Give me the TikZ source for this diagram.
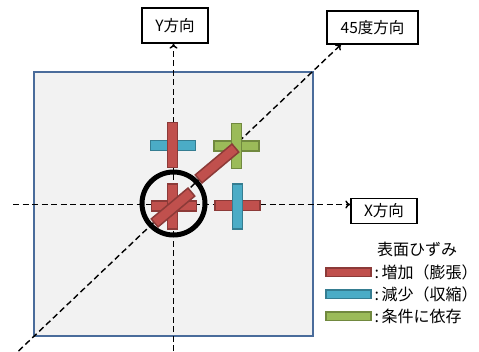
\documentclass[tikz,border=0pt]{standalone}
\usepackage{fontspec}
\setmainfont{Noto Sans CJK JP}
\usetikzlibrary{arrows.meta}
\definecolor{redf}{HTML}{C0504D}
\definecolor{redd}{HTML}{8C3A38}
\definecolor{bluef}{HTML}{4BACC6}
\definecolor{blued}{HTML}{357D91}
\definecolor{greenf}{HTML}{9BBB59}
\definecolor{greend}{HTML}{71893F}
\definecolor{sqfill}{HTML}{F2F2F2}
\definecolor{sqdraw}{HTML}{4A6C9B}
\tikzset{
  bar/.style={rectangle, inner sep=0pt, minimum width=45pt, minimum height=10pt, line width=1.5pt},
  rbar/.style={bar, fill=redf, draw=redd},
  bbar/.style={bar, fill=bluef, draw=blued},
  gbar/.style={bar, fill=greenf, draw=greend},
  dbar/.style={rbar, minimum width=48pt, minimum height=10.5pt, rotate=40},
  axis/.style={line width=1.4pt, dash pattern=on 6pt off 3.5pt},
  lbl/.style={draw=black, line width=1.3pt, fill=white, inner sep=0pt, font=\fontsize{15.5}{18}\selectfont},
  swatch/.style={rectangle, inner sep=0pt, minimum width=45pt, minimum height=8.5pt, line width=1.5pt},
  ltxt/.style={anchor=west, inner sep=0pt, font=\fontsize{16}{19}\selectfont}
}
\begin{document}
\begin{tikzpicture}[x=1pt,y=-1pt]
\useasboundingbox (0,0) rectangle (479,351);
% square
\node[draw=sqdraw, fill=sqfill, line width=2pt, minimum width=279pt, minimum height=264pt, inner sep=0pt] (sq) at (173.5,204) {};
% label boxes
\node[lbl, minimum width=66pt, minimum height=35pt] (ybox) at (175,25.5) {Y方向};
\node[lbl, minimum width=91pt, minimum height=33pt] (dbox) at (372.5,27.5) {45度方向};
\node[lbl, minimum width=66pt, minimum height=25pt] (xbox) at (384,210.8) {X方向};
% axes
\coordinate (vb) at (173.5,351);
\coordinate (hl) at (13,204.5);
\coordinate (dl) at (18.5,351);
\coordinate (dr) at (341,44.5);
\draw[axis, -{To[length=5pt,width=8pt]}] (vb) -- (vb |- ybox.south);
\draw[axis, -{To[length=5pt,width=8pt]}] (hl) -- (hl -| xbox.west);
\draw[axis, -{To[length=5pt,width=8pt]}] (dl) -- (dr);
% top cross
\node[bbar] (tch) at (173,145.5) {};
\node[rbar, rotate=90] (tcv) at (172.5,145) {};
% green cross
\node[gbar] (gch) at (236.5,146) {};
\node[gbar, rotate=90] (gcv) at (236.5,146) {};
% diagonal bar
\node[dbar] (db) at (217,163.5) {};
% right cross
\node[rbar] (rch) at (237.5,205.5) {};
\node[bbar, rotate=90] (rcv) at (237.5,206.5) {};
% center cross
\node[rbar] (cch) at (174,206) {};
\node[rbar, rotate=90] (ccv) at (172.5,206.5) {};
\node[dbar] (cdb) at (173,207.5) {};
% circle
\node[circle, draw=black, line width=5pt, minimum size=63pt, inner sep=0pt] (circ) at (173.5,203.5) {};
% legend
\node[ltxt] (lt) at (377,249) {表面ひずみ};
\node[swatch, fill=redf, draw=redd] (s1) at (348.5,272) {};
\node[swatch, fill=bluef, draw=blued] (s2) at (348.5,294) {};
\node[swatch, fill=greenf, draw=greend] (s3) at (348.5,316) {};
\node[ltxt] (t1) at (374.5,272) {:\hspace{2.5pt}増加（膨張）};
\node[ltxt] (t2) at (374.5,294) {:\hspace{2.5pt}減少（収縮）};
\node[ltxt] (t3) at (374.5,316) {:\hspace{2.5pt}条件に依存};
\end{tikzpicture}
\end{document}
